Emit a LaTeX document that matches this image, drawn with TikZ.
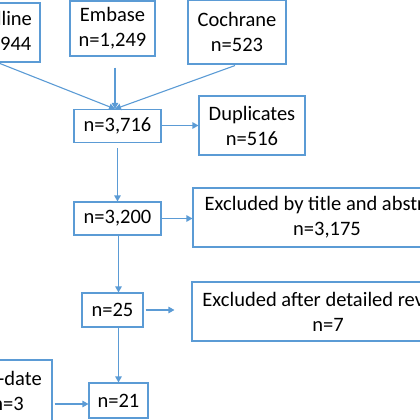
\documentclass[tikz,border=0pt]{standalone}
\usepackage{fontspec}
\setmainfont{Carlito}
\usetikzlibrary{arrows.meta,calc}
\definecolor{boxblue}{RGB}{91,155,213}
\tikzset{
  box/.style={draw=boxblue, line width=1.1pt, inner sep=0pt, align=center,
    font=\fontsize{20.5}{25}\selectfont, text=black},
  arr/.style={draw=boxblue, line width=1.1pt, -{Triangle[length=6pt,width=6.5pt]}},
  ln/.style={draw=boxblue, line width=1.1pt}
}
\begin{document}
\begin{tikzpicture}[x=1pt,y=-1pt]
\useasboundingbox (0,0) rectangle (420,420);
\clip (0,0) rectangle (420,420);
% top sources
\node[box, minimum width=85pt, minimum height=59pt] (medline) at (-2.5,32.5) {Medline\\n=1,944};
\node[box, minimum width=85pt, minimum height=55pt] (embase) at (112.5,28.5) {Embase\\n=1,249};
\node[box, minimum width=98pt, minimum height=64pt] (cochrane) at (237,32) {Cochrane\\n=523};
% main column
\node[box, minimum width=87pt, minimum height=33pt] (n3716) at (117.5,126) {n=3,716};
\node[box, minimum width=106pt, minimum height=59pt] (dup) at (252,125.5) {Duplicates\\n=516};
\node[box, minimum width=87pt, minimum height=33pt] (n3200) at (117.5,218.5) {n=3,200};
\node[box, minimum width=268pt, minimum height=59pt] (excl1) at (327,217.5) {Excluded by title and abstract\\n=3,175};
\node[box, minimum width=61pt, minimum height=34pt] (n25) at (112.5,310) {n=25};
\node[box, minimum width=272pt, minimum height=59pt] (excl2) at (328,311.5) {Excluded after detailed review\\n=7};
\node[box, minimum width=59pt, minimum height=35pt] (n21) at (118.5,400.5) {n=21};
\node[box, minimum width=88pt, minimum height=62pt] (update) at (8,391) {Up-date\\n=3};
% connectors
\coordinate (tgt) at ($(n3716.north)+(-2.5,0)$);
\draw[arr] (medline.south) -- (tgt);
\draw[arr] ($(embase.south)+(2.5,11)$) -- (tgt);
\draw[arr] ($(cochrane.south)+(-2,1)$) -- (tgt);
\draw[arr] (n3716.east |- dup.west) -- (dup.west);
\draw[arr] ([yshift=-5pt]n3716.south) -- (n3200.north);
\draw[arr] (n3200.east) -- (n3200.east -| excl1.west);
\draw[arr] ([xshift=1pt]n3200.south) -- ([xshift=1pt]n3200.south |- n25.north);
\draw[arr, shorten >=17pt] ([xshift=2pt]n25.east) -- (n25.east -| excl2.west);
\draw[arr] (n21.north |- n25.south) -- (n21.north);
\coordinate (j21) at ([yshift=-3.5pt]n21.west);
\draw[arr] ([xshift=2pt]update.east |- j21) -- (j21);
\end{tikzpicture}
\end{document}
